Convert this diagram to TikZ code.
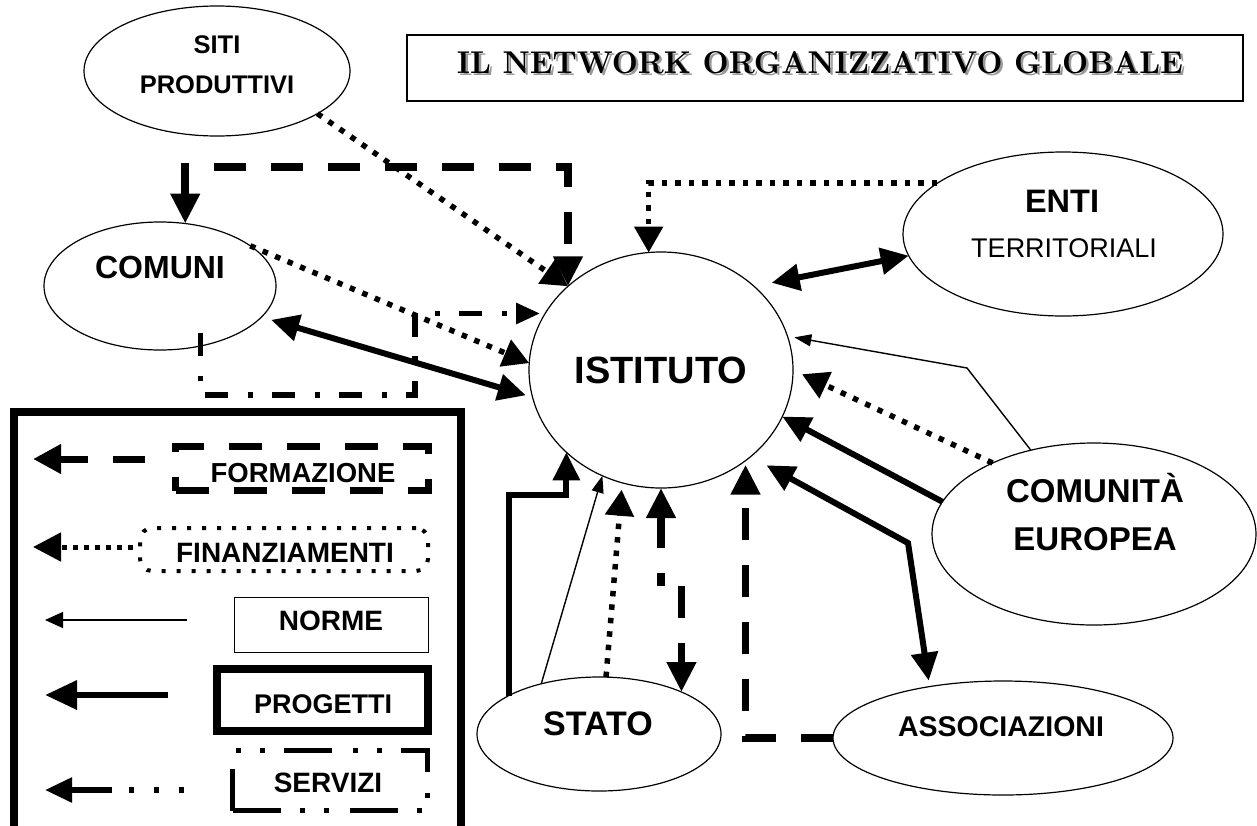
\documentclass[tikz,border=0pt]{standalone}
\usepackage{graphicx}
\usepackage{fontspec}
\newfontfamily\arl{Liberation Sans}
\usetikzlibrary{arrows.meta,shapes.geometric}
\newcommand\myfs[1]{\fontsize{#1}{#1}\selectfont}
\tikzset{
  Tp/.tip={Triangle[length=28pt,width=26pt]},
  Tf/.tip={Triangle[length=30pt,width=28pt]},
  Td/.tip={Triangle[length=26pt,width=28pt]},
  Tn/.tip={Triangle[length=17pt,width=12pt]},
  Ts/.tip={Triangle[length=24pt,width=20pt]},
  ell/.style={draw, ellipse, line width=1.2pt, inner sep=0pt, outer sep=0pt},
  prog/.style={line width=6pt},
  formaz/.style={line width=7.5pt, dash pattern=on 32pt off 25pt},
  finanz/.style={line width=5.5pt, dash pattern=on 5.5pt off 8pt},
  norme/.style={line width=1.4pt},
  serv/.style={line width=5.5pt, dash pattern=on 23pt off 20pt on 5pt off 19pt},
  lbl/.style={anchor=base, inner sep=0pt, outer sep=0pt},
  box/.style={draw, inner sep=0pt, outer sep=0pt},
}
\begin{document}
\begin{tikzpicture}[x=1pt,y=-1pt]
\useasboundingbox (0,0) rectangle (1257,825);
\fill[white] (0,0) rectangle (1257,825);

% title
\node[box, line width=2pt, minimum width=836pt, minimum height=66pt] (title) at (825,68) {};
\node[lbl, text=black!40] (titleshadow) at (822.5,75.5) {\resizebox{726pt}{22pt}{\bfseries IL NETWORK ORGANIZZATIVO GLOBALE}};
\node[lbl] (titletext) at (820,73) {\resizebox{726pt}{22pt}{\bfseries IL NETWORK ORGANIZZATIVO GLOBALE}};

% ellipses
\node[ell, minimum width=266pt, minimum height=130pt] (siti) at (217,71) {};
\node[ell, minimum width=232pt, minimum height=128pt] (com) at (160,286) {};
\node[ell, minimum width=264pt, minimum height=236pt] (ist) at (661,370) {};
\node[ell, minimum width=320pt, minimum height=164pt] (ent) at (1063,234) {};
\node[ell, minimum width=324pt, minimum height=182pt] (cm) at (1094,534) {};
\node[ell, minimum width=244pt, minimum height=114pt] (st) at (599,734) {};
\node[ell, minimum width=340pt, minimum height=114pt] (as) at (1003,738) {};

% labels
\node[lbl, font={\arl\bfseries\myfs{25.5}}] (siti1) at (217,53) {SITI};
\node[lbl, font={\arl\bfseries\myfs{25.5}}] (siti2) at (217,93) {PRODUTTIVI};
\node[lbl, font={\arl\bfseries\myfs{32}}] (comt) at (160,278) {COMUNI};
\node[lbl, font={\arl\bfseries\myfs{38}}] (istt) at (661,383) {ISTITUTO};
\node[lbl, font={\arl\bfseries\myfs{32.5}}] (ent1) at (1062,212) {ENTI};
\node[lbl, font={\arl\myfs{27}}] (ent2) at (1064,257) {TERRITORIALI};
\node[lbl, font={\arl\bfseries\myfs{33}}] (cm1) at (1095,502) {COMUNITÀ};
\node[lbl, font={\arl\bfseries\myfs{33}}] (cm2) at (1095,550) {EUROPEA};
\node[lbl, font={\arl\bfseries\myfs{34}}] (stt) at (598,735) {STATO};
\node[lbl, font={\arl\bfseries\myfs{28.5}}] (ast) at (1001,736) {ASSOCIAZIONI};

% connectors
\coordinate (cf) at (0,167);
\coordinate (sv) at (415,395);
\coordinate (nb) at (967,368);
\coordinate (pb) at (908,543);
\coordinate (sp) at (0,495);
\coordinate (jg) at (0,586);

\draw[finanz, -{Td}] (siti.-23) -- (ist.138);
\draw[formaz, {Tf}-{Tf}] (com.68) -- (com.68 |- cf) -- (ist.138 |- cf) -- (ist.138);
\draw[finanz, -{Td}] (com.24) -- (ist.177);
\draw[prog, {Tp}-{Tp}, shorten <=10pt, shorten >=7pt] (com.-17) -- (ist.192);
\draw[serv, -{Ts}, shorten <=-13pt, shorten >=5pt] (com.-56) |- (sv) |- (ist.154);
\draw[finanz, -{Td}] (ent.158) -| (ist.96);
\draw[prog, {Tp}-{Tp}, shorten <=18pt] (ist.42) -- (ent.188);
\draw[norme, -{Tn}, shorten >=7pt] (cm.127) -- (nb) -- (ist.15);
\draw[finanz, -{Td}, shorten >=10pt] (cm.145) -- (ist.0);
\draw[prog, -{Tp}] (cm.168) -- (ist.-21);
\draw[prog, {Tp}-{Tp}, shorten <=18pt, shorten >=6pt] (ist.-44) -- (pb) -- (as.145);
\draw[formaz, -{Tf}, shorten >=4pt] (as.west) -| (ist.-47);
\draw[prog, -{Tp}] (st.157) -- (st.157 |- sp) -| (ist.221);
\draw[norme, -{Tn}] (st.139) -- (ist.241);
\draw[finanz, -{Td}, shorten >=7pt] (st.83) -- (ist.251);
\draw[formaz, {Tf}-] (ist.270) -- (ist.270 |- jg);
\draw[formaz, -{Tf}] (st.27 |- jg) -- (st.27);

% legend frame
\coordinate (lg1) at (14,845);
\coordinate (lg2) at (14,412);
\coordinate (lg3) at (461,412);
\coordinate (lg4) at (461,845);
\draw[line width=8pt] (lg1) -- (lg2) -- (lg3) -- (lg4);

% legend boxes
\node[box, line width=7pt, dash pattern=on 33pt off 25pt, minimum width=253pt, minimum height=44pt] (lbf) at (302,468.5) {};
\node[box, line width=4pt, dash pattern=on 4pt off 11pt, rounded corners=12pt, minimum width=288pt, minimum height=43pt] (lbfi) at (284,549.5) {};
\node[box, line width=1.5pt, minimum width=194pt, minimum height=55pt] (lbn) at (331.5,625) {};
\node[box, line width=8pt, minimum width=211pt, minimum height=62pt] (lbp) at (322.5,700) {};
\node[box, line width=5pt, dash pattern=on 48pt off 19pt on 5pt off 19pt on 5pt off 21pt, minimum width=195pt, minimum height=60pt] (lbs) at (330,780.5) {};

\node[lbl, font={\arl\bfseries\myfs{27.5}}] (lt1) at (303,482) {FORMAZIONE};
\node[lbl, font={\arl\bfseries\myfs{28}}] (lt2) at (285,562) {FINANZIAMENTI};
\node[lbl, font={\arl\bfseries\myfs{28}}] (lt3) at (331,630) {NORME};
\node[lbl, font={\arl\bfseries\myfs{27}}] (lt4) at (323,713) {PROGETTI};
\node[lbl, font={\arl\bfseries\myfs{28}}] (lt5) at (328,792) {SERVIZI};

% legend arrows
\coordinate (la1) at (145,459); \coordinate (lz1) at (33,459);
\coordinate (la2) at (133,547); \coordinate (lz2) at (33,547);
\coordinate (la3) at (187,620); \coordinate (lz3) at (45,620);
\coordinate (la4) at (168,695); \coordinate (lz4) at (45,695);
\coordinate (la5) at (184,790); \coordinate (lz5) at (45,790);
\draw[line width=7pt, dash pattern=on 32pt off 25pt, -{Triangle[length=28pt,width=28pt]}] (la1) -- (lz1);
\draw[line width=5pt, dash pattern=on 5pt off 6pt, -{Triangle[length=28pt,width=28pt]}] (la2) -- (lz2);
\draw[line width=1.4pt, -{Triangle[length=18pt,width=16pt]}] (la3) -- (lz3);
\draw[line width=6.5pt, -{Triangle[length=32pt,width=28pt]}] (la4) -- (lz4);
\draw[line width=5.5pt, dash pattern=on 5pt off 20pt on 5pt off 20pt on 5pt off 17pt on 200pt, -{Triangle[length=27pt,width=24pt]}] (la5) -- (lz5);
\end{tikzpicture}
\end{document}
